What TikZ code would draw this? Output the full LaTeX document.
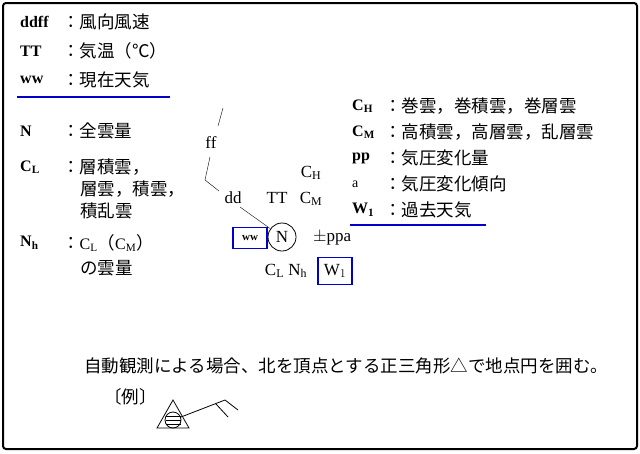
\documentclass[tikz,border=0pt]{standalone}
\usepackage{fontspec}
\setmainfont{Liberation Serif}
\newfontfamily\jp{Noto Sans CJK JP}
\begin{document}
\begin{tikzpicture}[x=1pt, y=-1pt, font=\fontsize{17}{20}\selectfont,
  lbl/.style={anchor=west, inner sep=0pt, font=\fontsize{16}{20}\selectfont\bfseries},
  jtxt/.style={anchor=west, inner sep=0pt, font=\fontsize{17.5}{21}\selectfont\jp},
  bluebox/.style={draw=blue!80!black, line width=1.6pt}]
		\useasboundingbox (0,0) rectangle (640,453);
		\draw[line width=2pt, rounded corners=3pt] (3,3) rectangle (637,449);
		%left legend
		\node[lbl] (dfl) at (20,22){ddff};
		\node[jtxt] (dfj) at (62,22){：風向風速};
		\node[lbl] (ttl) at (20,51){TT};
		\node[jtxt] (ttj) at (62,51){：気温（℃）};
		\node[lbl] (wwl) at (20,80){ww};
		\node[jtxt] (wwj) at (62,80){：現在天気};
		\draw[bluebox] (17,97) -- (170,97);
		\node[lbl] (nl) at (20,131){N};
		\node[jtxt] (nj) at (62,131){：全雲量};
		\node[lbl] (cll) at (20,167){C$_{\mathbf{L}}$};
		\node[jtxt] (clj) at (62,167){：層積雲，};
		\node[jtxt] (clj2) at (80,189){層雲，積雲，};
		\node[jtxt] (clj3) at (80,211){積乱雲};
		\node[lbl] (nhl) at (20,243){N$_{\mathbf{h}}$};
		\node[lbl, font=\fontsize{16}{20}\selectfont] (nhj) at (62,243){{\jp\fontsize{17.5}{21}\selectfont ：}C$_{\mathrm{L}}${\jp\fontsize{17.5}{21}\selectfont（}C$_{\mathrm{M}}${\jp\fontsize{17.5}{21}\selectfont）}};
		\node[jtxt] (nhj2) at (80,268){の雲量};
		%right legend
		\node[lbl] (chl) at (352,106){C$_{\mathbf{H}}$};
		\node[jtxt] (chj) at (384,106){：巻雲，巻積雲，巻層雲};
		\node[lbl] (cml) at (352,132){C$_{\mathbf{M}}$};
		\node[jtxt] (cmj) at (384,132){：高積雲，高層雲，乱層雲};
		\node[lbl] (ppl) at (352,158){pp};
		\node[jtxt] (ppj) at (384,158){：気圧変化量};
		\node[lbl, font=\fontsize{14}{18}\selectfont] (al) at (352,184){a};
		\node[jtxt] (aj) at (384,184){：気圧変化傾向};
		\node[lbl] (w1l) at (352,210){W$_{\mathbf{1}}$};
		\node[jtxt] (w1j) at (384,210){：過去天気};
		\draw[bluebox] (350,225) -- (486,225);
		%station model
		\node[circle, draw, thick, minimum size=28pt, inner sep=0pt] (stn) at (282,237){N};
		\node[inner sep=0pt] (ff) at (211,143){ff};
		\node[inner sep=0pt] (dd) at (233,198){dd};
		\node[inner sep=0pt] (tt) at (277,198){TT};
		\node[inner sep=0pt] (ch) at (311,173){C$_{\mathrm{H}}$};
		\node[inner sep=0pt] (cm) at (311,199){C$_{\mathrm{M}}$};
		\node[bluebox, inner sep=2pt, minimum width=34pt, minimum height=21pt, font=\fontsize{11}{12}\selectfont\bfseries] (ww) at (250,238){ww};
		\node[inner sep=0pt, anchor=west] (ppa) at (313,238){$\pm$ppa};
		\node[inner sep=0pt] (clnh) at (286,271){C$_{\mathrm{L}}$ N$_{\mathrm{h}}$};
		\node[bluebox, inner sep=2pt, minimum width=34pt, minimum height=27pt] (w1) at (335,271){W$_1$};
		\coordinate (tip) at (218,126);
		\coordinate (top) at (223,108);
		\draw (tip) -- (top);
		\draw (210,157) -- (205,180) -- (219,191);
		\draw (240,207) -- (stn);
		%automatic station note
		\node[jtxt] (note) at (84,366){自動観測による場合、北を頂点とする正三角形△で地点円を囲む。};
		\node[jtxt] (rei) at (104,397){〔例〕};
		\draw[thick] (173,400) -- (157,428) -- (189,428) -- cycle;
		\draw[thick] (173,420) circle (8);
		\foreach \y in {416, 420, 424}{
			\draw[thick] (165.5,\y) -- (180.5,\y);
		}
		\draw[thick] (181,417) -- (225,400) -- (238,410);
		\draw[thick] (216,404) -- (228,417);
\end{tikzpicture}
\end{document}
